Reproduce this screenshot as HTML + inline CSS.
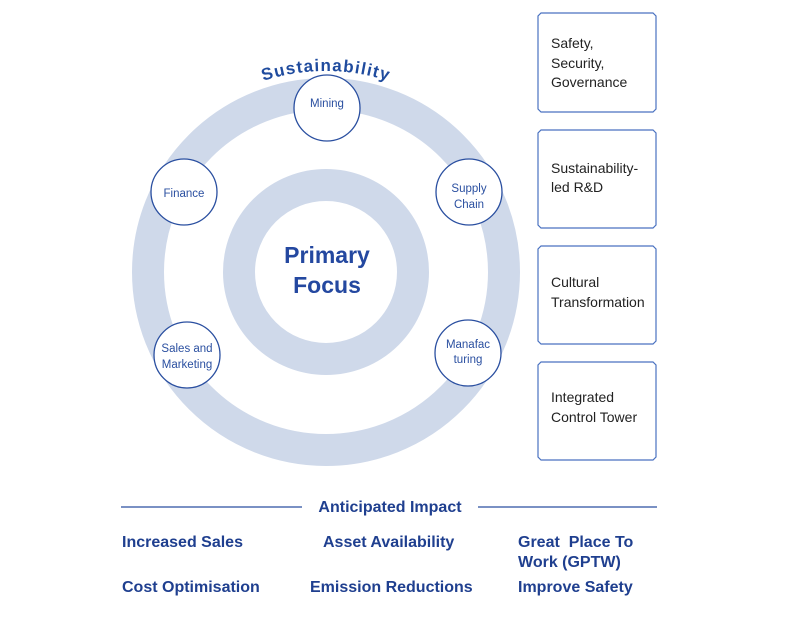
<!DOCTYPE html>
<html><head><meta charset="utf-8"><style>
html,body{margin:0;padding:0;background:#fff;}
svg{display:block;}
</style></head><body>
<svg width="790" height="622" viewBox="0 0 790 622" xmlns="http://www.w3.org/2000/svg" font-family="Liberation Sans, sans-serif">
<defs>
<path id="arc" d="M 125 272 A 201 201 0 0 1 527 272"/>
</defs>
<circle cx="326" cy="272" r="178" fill="none" stroke="#cfd9ea" stroke-width="32"/>
<circle cx="326" cy="272" r="87" fill="none" stroke="#cfd9ea" stroke-width="32"/>
<text font-size="17" font-weight="bold" fill="#1f4b9e" letter-spacing="1.2"><textPath href="#arc" startOffset="50%" text-anchor="middle">Sustainability</textPath></text>
<g fill="#fff" stroke="#2a4fa0" stroke-width="1.3">
<circle cx="327" cy="108" r="33"/>
<circle cx="184" cy="192" r="33"/>
<circle cx="469" cy="192" r="33"/>
<circle cx="187" cy="355" r="33"/>
<circle cx="468" cy="353" r="33"/>
</g>
<g fill="#2a4fa0" font-size="11.5" text-anchor="middle">
<text x="327" y="107">Mining</text>
<text x="184" y="197">Finance</text>
<text x="469" y="192">Supply</text>
<text x="469" y="208">Chain</text>
<text x="187" y="352">Sales and</text>
<text x="187" y="368">Marketing</text>
<text x="468" y="348">Manafac</text>
<text x="468" y="363">turing</text>
</g>
<g fill="#2448a0" font-size="23" text-anchor="middle" font-weight="bold">
<text x="327" y="263">Primary</text>
<text x="327" y="293">Focus</text>
</g>
<g fill="#fff" stroke="#4a72c0" stroke-width="1.2">
<path d="M541 13 H653 L656 16 V109 L653 112 H541 L538 109 V16 Z"/>
<path d="M541 130 H653 L656 133 V225 L653 228 H541 L538 225 V133 Z"/>
<path d="M541 246 H653 L656 249 V341 L653 344 H541 L538 341 V249 Z"/>
<path d="M541 362 H653 L656 365 V457 L653 460 H541 L538 457 V365 Z"/>
</g>
<g fill="#222" font-size="14">
<text x="551" y="48">Safety,</text>
<text x="551" y="68">Security,</text>
<text x="551" y="87">Governance</text>
<text x="551" y="173">Sustainability-</text>
<text x="551" y="192">led R&amp;D</text>
<text x="551" y="287">Cultural</text>
<text x="551" y="307">Transformation</text>
<text x="551" y="402">Integrated</text>
<text x="551" y="422">Control Tower</text>
</g>
<line x1="121" y1="507" x2="302" y2="507" stroke="#2a4fa0" stroke-width="1.2"/>
<line x1="478" y1="507" x2="657" y2="507" stroke="#2a4fa0" stroke-width="1.2"/>
<g fill="#1f3f8f" font-size="16" font-weight="bold">
<text x="390" y="512" text-anchor="middle">Anticipated Impact</text>
<text x="122" y="547">Increased Sales</text>
<text x="323" y="547">Asset Availability</text>
<text x="518" y="547" xml:space="preserve">Great  Place To</text>
<text x="518" y="567">Work (GPTW)</text>
<text x="122" y="592">Cost Optimisation</text>
<text x="310" y="592">Emission Reductions</text>
<text x="518" y="592">Improve Safety</text>
</g>
</svg>
</body></html>
